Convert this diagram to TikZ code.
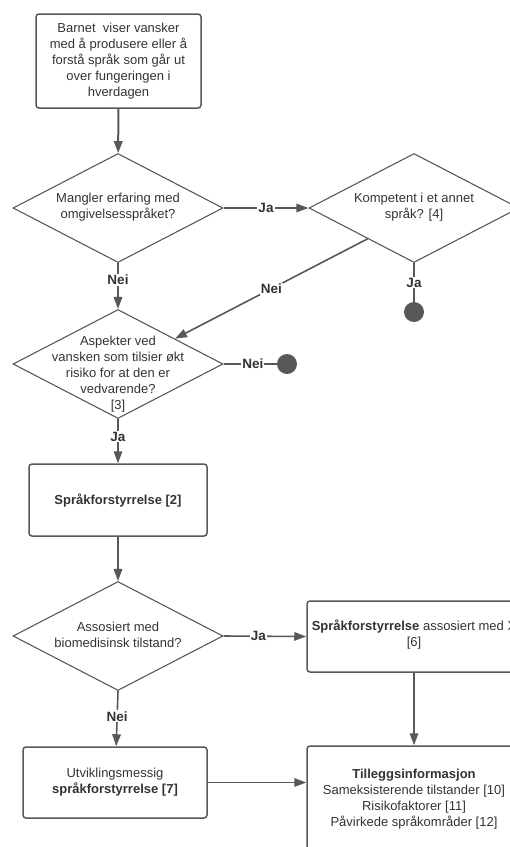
\documentclass[tikz,border=0pt]{standalone}
\usepackage{fontspec}
\setmainfont{Liberation Sans}
\usetikzlibrary{arrows.meta,calc,shapes.geometric}
\definecolor{linegray}{HTML}{585858}
\definecolor{textgray}{HTML}{333333}
\begin{document}
\begin{tikzpicture}[x=1pt,y=-1pt,
    every node/.style={text=textgray,font=\fontsize{13}{16}\selectfont},
    stepbox/.style={draw=linegray,line width=1.5pt,rounded corners=3pt,align=center,inner sep=0pt},
    decision/.style={draw=linegray,line width=1.1pt,diamond,minimum width=210pt,minimum height=109pt,inner sep=0pt},
    dtext/.style={align=center,inner sep=0pt},
    enddot/.style={circle,fill=linegray,minimum size=20pt,inner sep=0pt},
    answer/.style={fill=white,inner sep=1pt,font=\fontsize{13.5}{16}\selectfont\bfseries},
    flow/.style={draw=linegray,line width=1.6pt,->,>={Triangle[length=12pt,width=8.5pt]}},
    plain/.style={draw=linegray,line width=1.6pt}]
    \useasboundingbox (0,0) rectangle (510,847);
    \clip (0,0) rectangle (510,847);
    \node[stepbox,minimum width=165pt,minimum height=94pt] (start) at (118.5,61) {Barnet\ \ viser vansker\\med å produsere eller å\\forstå språk som går ut\\over fungeringen i\\hverdagen};
    \node[decision] (d1) at (118,208) {};
    \node[dtext] (d1t) at (118,207) {Mangler erfaring med\\omgivelsesspråket?};
    \node[decision] (d2) at (414,208) {};
    \node[dtext] (d2t) at (414,207) {Kompetent i et annet\\språk? [4]};
    \node[decision] (d3) at (118,364) {};
    \node[dtext] (d3t) at (118,374) {Aspekter ved\\vansken som tilsier økt\\risiko for at den er\\vedvarende?\\{[3]}};
    \node[enddot] (stop1) at (414,312) {};
    \node[enddot] (stop2) at (287,364) {};
    \node[stepbox,minimum width=178pt,minimum height=72pt] (lang) at (118,500) {\textbf{Språkforstyrrelse [2]}};
    \node[decision] (d4) at (118,636) {};
    \node[dtext] (d4t) at (118,635) {Assosiert med\\biomedisinsk tilstand?};
    \node[stepbox,minimum width=214pt,minimum height=71pt] (assoc) at (414,636.5) {};
    \node[dtext] (assoct) at (414,634.5) {\textbf{Språkforstyrrelse} assosiert med X\\{[6]}};
    \node[stepbox,minimum width=184pt,minimum height=71pt] (devel) at (115,782.5) {Utviklingsmessig\\\textbf{språkforstyrrelse [7]}};
    \node[stepbox,minimum width=214pt,minimum height=104pt] (extra) at (414,798) {};
    \node[dtext] (extrat) at (414,799) {\textbf{Tilleggsinformasjon}\\Sameksisterende tilstander [10]\\Risikofaktorer [11]\\Påvirkede språkområder [12]};
    \draw[flow,line width=2pt] (start) -- (d1);
    \draw[flow] (d1.east) -- node[answer]{Ja} (d2.west);
    \draw[flow] (d1.south) -- node[answer,pos=0.36]{Nei} (d3.north);
    \draw[flow] ($(d2.west)!0.56!(d2.south)$) -- node[answer]{Nei} ($(d3.north)!0.54!(d3.east)$);
    \draw[plain] (d2.south) -- node[answer,pos=0.5]{Ja} (stop1);
    \draw[plain] (d3.east) -- node[answer,pos=0.55]{Nei} (stop2);
    \draw[flow] (d3.south) -- node[answer,pos=0.4]{Ja} (lang);
    \draw[flow] (lang) -- (d4.north);
    \draw[flow] (d4.east) -- node[answer,pos=0.42]{Ja} (assoc.west);
    \draw[flow] (d4.south) -- node[answer,pos=0.46]{Nei} (devel);
    \draw[flow] (assoc) -- (extra);
    \draw[flow] (devel.east) -- (devel.east -| extra.west);
\end{tikzpicture}
\end{document}
